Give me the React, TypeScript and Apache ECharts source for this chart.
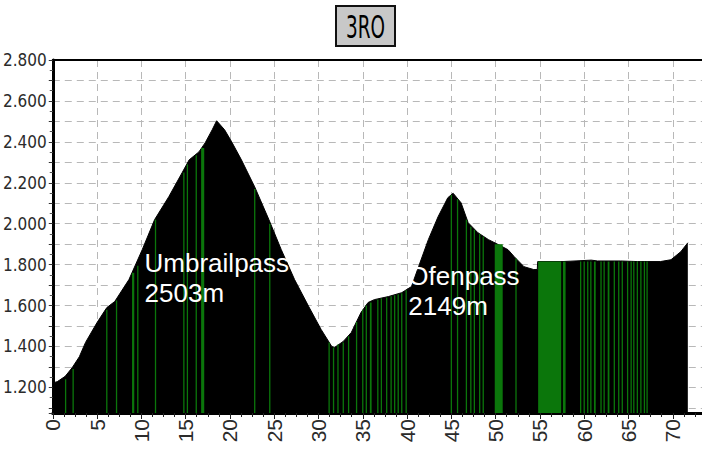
import React, { useEffect, useRef } from "react";
import * as echarts from "echarts";

// Elevation profile (km, m)
const distanceKm = [0, 0.5, 1.4, 2.2, 3.0, 3.7, 5.0, 6.1, 7.0, 8.6, 10.1, 11.5, 13.1, 14.6, 15.4, 16.5, 17.2, 18.0, 18.5, 19.4, 20.2, 21.3, 22.8, 24.4, 25.8, 27.3, 28.9, 30.3, 31.5, 31.8, 32.8, 33.7, 34.8, 35.6, 36.3, 37.9, 39.4, 40.5, 41.3, 42.4, 43.5, 44.6, 45.2, 46.1, 46.9, 48.0, 49.2, 50.3, 51.4, 52.1, 53.2, 54.3, 54.7, 54.75, 57.5, 58.5, 60.8, 61.5, 64.1, 66.0, 68.6, 69.8, 70.9, 71.7];
const elevationM = [1222, 1228, 1254, 1297, 1350, 1420, 1517, 1590, 1620, 1727, 1873, 2020, 2132, 2249, 2312, 2351, 2395, 2459, 2503, 2459, 2400, 2312, 2180, 2020, 1873, 1727, 1595, 1483, 1400, 1395, 1425, 1468, 1566, 1615, 1629, 1644, 1663, 1693, 1790, 1922, 2034, 2127, 2149, 2102, 2005, 1956, 1922, 1898, 1873, 1839, 1790, 1776, 1776, 1815, 1815, 1817, 1822, 1818, 1818, 1815, 1815, 1824, 1863, 1907];

// Green stripes: start km, end km, top elevation
const stripeFrom = [1.45, 2.3, 6.1, 7.2, 8.95, 9.6, 11.6, 14.8, 15.2, 16.2, 16.75, 22.8, 24.5, 31.2, 31.7, 32.2, 32.8, 33.4, 34.3, 35.0, 35.4, 35.8, 36.7, 37.1, 37.7, 38.2, 38.6, 39.0, 39.4, 39.9, 45.0, 45.7, 46.7, 47.2, 47.6, 48.2, 48.6, 49.9, 52.3, 54.8, 57.6, 59.6, 60.0, 60.4, 60.75, 61.1, 61.9, 62.25, 62.65, 63.4, 63.9, 64.3, 64.9, 65.3, 65.6, 66.0, 66.4, 66.8, 67.1];
const stripeTo = [1.45, 2.3, 6.1, 7.2, 9.2, 9.6, 11.6, 14.8, 15.2, 16.2, 17.1, 22.8, 24.5, 31.2, 31.7, 32.2, 32.8, 33.4, 34.3, 35.0, 35.4, 36.0, 36.7, 37.2, 37.7, 38.2, 38.6, 39.0, 39.4, 39.9, 45.0, 45.7, 46.7, 47.2, 47.6, 48.2, 48.6, 50.8, 52.3, 57.4, 57.9, 59.6, 60.0, 60.4, 60.75, 61.3, 61.9, 62.25, 62.85, 63.4, 63.9, 64.3, 64.9, 65.3, 65.6, 66.0, 66.4, 66.8, 67.1];
const stripeTop = [1240, 1290, 1580, 1625, 1760, 1795, 2020, 2250, 2290, 2335, 2370, 2170, 2000, 1420, 1395, 1410, 1420, 1450, 1520, 1580, 1600, 1615, 1630, 1635, 1640, 1645, 1650, 1655, 1660, 1675, 2140, 2120, 2020, 1985, 1970, 1950, 1938, 1900, 1830, 1815, 1815, 1815, 1815, 1815, 1815, 1815, 1815, 1815, 1815, 1815, 1815, 1815, 1815, 1815, 1815, 1815, 1815, 1815, 1815];

// Pass annotations
const passNames = ["Umbrailpass", "Ofenpass"];
const passHeights = ["2503m", "2149m"];
const passLabelKm = [10.42, 40.2];
const passLabelElev = [1732, 1671];

const titleText = "3RO";
const yMin = 1075;
const yMax = 2800;
const xMin = 0;
const xMax = 73.3;

const narrow = '"Liberation Sans Narrow", "DejaVu Sans Condensed", "Liberation Sans", sans-serif';

function fmtThousands(v: number) {
  const s = String(Math.round(v));
  return s.length > 3 ? s.slice(0, s.length - 3) + "." + s.slice(s.length - 3) : s;
}

export default function App() {
  const ref = useRef<HTMLDivElement>(null);
  useEffect(() => {
    if (!ref.current) return;
    const chart = echarts.init(ref.current, null, { renderer: "svg" });
    const profile = distanceKm.map((d, i) => [d, elevationM[i]]);
    const stripes = stripeFrom.map((f, i) => [f, stripeTo[i], stripeTop[i]]);
    const labels = passNames.map((n, i) => ({
      value: [passLabelKm[i], passLabelElev[i]],
      name: n + "\n" + passHeights[i],
    }));
    chart.setOption({
      animation: false,
      backgroundColor: "#ffffff",
      graphic: [
        {
          type: "group",
          left: 335,
          top: 5,
          children: [
            { type: "rect", shape: { x: 0, y: 0, width: 59, height: 40 }, style: { fill: "#c8c8c8", stroke: "#111", lineWidth: 2 } },
            {
              type: "text",
              x: 29.5,
              y: 21,
              scaleX: 0.64,
              style: { text: titleText, fill: "#000", font: `32px ${narrow}`, align: "center", verticalAlign: "middle" },
            },
          ],
        },
      ],
      grid: { left: 50, right: 0, top: 60, bottom: 40, containLabel: false },
      xAxis: [
        {
          type: "value",
          min: xMin,
          max: xMax,
          interval: 5,
          axisLine: { show: true, lineStyle: { color: "#000", width: 3 } },
          axisTick: { show: true, length: 6, lineStyle: { color: "#222", width: 1 } },
          minorTick: { show: true, splitNumber: 4, length: 4, lineStyle: { color: "#222", width: 1 } },
          axisLabel: {
            rotate: 90,
            margin: 6,
            color: "#2b2b2b",
            fontFamily: '"Liberation Sans", Arial, sans-serif',
            fontSize: 21,
            showMaxLabel: false,
            formatter: (v: number) => (Math.abs(v % 5) < 1e-6 ? String(v) : ""),
          },
          splitLine: { show: true, lineStyle: { color: "#b8b8b8", type: [7, 5], width: 1 } },
        },
        {
          type: "value",
          position: "top",
          min: xMin,
          max: xMax,
          axisLine: { show: true, lineStyle: { color: "#000", width: 2 } },
          axisTick: { show: false },
          axisLabel: { show: false },
          splitLine: { show: false },
        },
      ],
      yAxis: {
        type: "value",
        min: yMin,
        max: yMax,
        splitNumber: 17,
        axisLine: { show: true, lineStyle: { color: "#000", width: 3 } },
        axisTick: { show: true, length: 4, lineStyle: { color: "#333", width: 1 } },
        minorTick: { show: true, splitNumber: 2, length: 3, lineStyle: { color: "#555", width: 1 } },
        axisLabel: {
          interval: 0,
          margin: 6,
          color: "#2b2b2b",
          fontFamily: narrow,
          fontSize: 17,
          formatter: (v: number) => (Math.round(v) % 200 === 0 ? fmtThousands(v) : ""),
        },
        splitLine: { show: true, lineStyle: { color: "#b8b8b8", type: [7, 5], width: 1 } },
      },
      series: [
        {
          type: "line",
          data: profile,
          symbol: "none",
          lineStyle: { color: "#000", width: 1 },
          areaStyle: { color: "#000", opacity: 1 },
          z: 2,
        },
        {
          type: "custom",
          data: stripes,
          encode: { x: [0, 1], y: 2 },
          z: 3,
          renderItem: (params: any, api: any) => {
            const a = api.coord([api.value(0), api.value(2)]);
            const b = api.coord([api.value(1), yMin]);
            const w = Math.max(1.3, b[0] - a[0]);
            return {
              type: "rect",
              shape: { x: a[0] - (b[0] - a[0] < 1 ? 0.65 : 0), y: a[1], width: w, height: b[1] - a[1] },
              style: { fill: "#0b760b" },
            };
          },
        },
        {
          type: "scatter",
          data: labels,
          symbol: "circle",
          symbolSize: 1,
          itemStyle: { color: "#000", opacity: 1 },
          z: 5,
          silent: true,
          label: {
            show: true,
            position: [0, 0],
            align: "left",
            verticalAlign: "middle",
            formatter: (p: any) => p.name,
            color: "#ffffff",
            opacity: 1,
            textBorderWidth: 0,
            textBorderColor: "transparent",
            textShadowBlur: 0,
            fontFamily: '"Liberation Sans", Arial, sans-serif',
            fontSize: 26,
            lineHeight: 30,
          },
        },
      ],
    });
    return () => chart.dispose();
  }, []);
  return <div ref={ref} style={{ position: "fixed", left: 0, top: 0, width: 702, height: 453 }} />;
}
